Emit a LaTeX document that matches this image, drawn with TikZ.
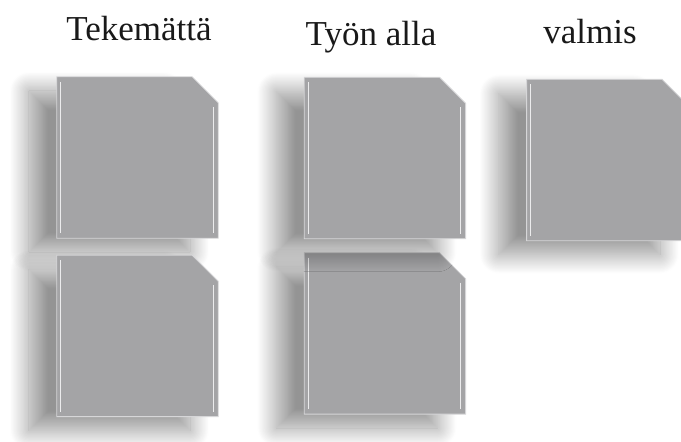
\documentclass[tikz,border=0pt]{standalone}
\usepackage{fontspec}
\setmainfont{Liberation Serif}
\usepackage{tikz}
\usetikzlibrary{positioning,shadows.blur}

\definecolor{cardgray}{RGB}{164,164,166}
\definecolor{cardedge}{RGB}{214,214,216}

\begin{document}
\begin{tikzpicture}[
    x=1pt, y=-1pt,
    card/.style={rectangle, minimum width=161pt, minimum height=161pt, inner sep=0pt},
    cardface/.style={fill=cardgray, draw=cardedge, line width=0.8pt, blur shadow={shadow xshift=-28pt, shadow yshift=-14pt, shadow blur radius=19pt, shadow blur steps=40, shadow opacity=42}},
    heading/.style={anchor=base, font=\fontsize{35}{40}\selectfont, text=black!90},
    glint/.style={white, line width=1.1pt, opacity=0.8}
]
\useasboundingbox (0,0) rectangle (681,442);

% Column headings
\node[heading] (todo) at (139,40) {Tekemättä};
\node[heading] (doing) at (371,45) {Työn alla};
\node[heading] (done) at (590,43) {valmis};

% Cards
\node[card] (c1) at (137.5,157.5) {};
\node[card, below=17pt of c1] (c2) {};
\node[card, right=86pt of c2, yshift=2.5pt] (c4) {};
\node[card, above=14pt of c4] (c3) {};
\node[card, right=61pt of c3, yshift=-2pt] (c5) {};

% Card faces with cut corner and bevel highlights
\foreach \c in {c1,c2,c4,c3,c5} {
  \path[cardface] (\c.north west) -- ([xshift=-26pt]\c.north east) -- ([yshift=-26pt]\c.north east)
    -- (\c.south east) -- (\c.south west) -- cycle;
  \draw[glint] ([shift={(4pt,-5pt)}]\c.north west) -- ([shift={(4pt,5pt)}]\c.south west);
  \draw[glint] ([shift={(-5pt,-30pt)}]\c.north east) -- ([shift={(-5pt,5pt)}]\c.south east);
}

\end{tikzpicture}
\end{document}
